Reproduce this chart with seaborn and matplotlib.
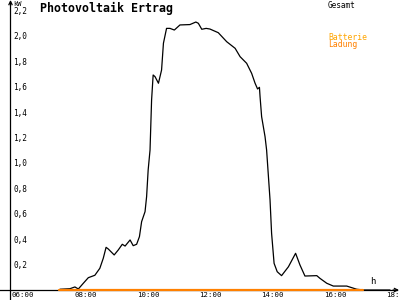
import matplotlib
matplotlib.use("Agg")
import matplotlib.pyplot as plt
import matplotlib.transforms as mtransforms
import seaborn as sns
import pandas as pd

sns.set_style("white")
plt.rcParams['font.family'] = ['DejaVu Sans Mono', 'DejaVu Sans']

# ---- data ----
gesamt_hours = [7.41, 7.73, 7.89, 8.00, 8.16, 8.32, 8.53, 8.69, 8.80, 8.89, 8.96,
                9.15, 9.28, 9.41, 9.50, 9.66, 9.76, 9.87, 9.96, 10.03, 10.14,
                10.19, 10.24, 10.30, 10.35, 10.40, 10.46, 10.57, 10.67, 10.73,
                10.83, 10.94, 11.08, 11.26, 11.58, 11.77, 11.85, 11.96, 12.10,
                12.22, 12.49, 12.76, 13.03, 13.19, 13.40, 13.56, 13.67, 13.75,
                13.81, 13.83, 13.88, 13.99, 14.04, 14.15, 14.20, 14.28, 14.38,
                14.52, 14.74, 14.97, 15.11, 15.27, 15.65, 15.75, 15.97, 16.18,
                16.61, 16.93, 17.14, 18.0]
gesamt_kw = [0.006, 0.01, 0.024, 0.008, 0.053, 0.097, 0.116, 0.171, 0.25, 0.336, 0.323,
             0.276, 0.315, 0.36, 0.346, 0.394, 0.349, 0.36, 0.42, 0.538, 0.617,
             0.735, 0.945, 1.102, 1.496, 1.693, 1.68, 1.628, 1.732, 1.943,
             2.06, 2.06, 2.047, 2.087, 2.09, 2.11, 2.10, 2.053, 2.06,
             2.055, 2.026, 1.955, 1.903, 1.837, 1.785, 1.706, 1.628, 1.583,
             1.596, 1.522, 1.365, 1.207, 1.102, 0.709, 0.446, 0.21, 0.144,
             0.113, 0.183, 0.289, 0.197, 0.11, 0.113, 0.092, 0.053, 0.031,
             0.031, 0.006, 0.0, 0.0]
batterie_hours = [7.38, 17.14]
batterie_kw = [0.0, 0.0]

x_ticks = [6, 8, 10, 12, 14, 16, 18]
x_labels = ["06:00", "08:00", "10:00", "12:00", "14:00", "16:00", "18:00"]
y_ticks = [0.2, 0.4, 0.6, 0.8, 1.0, 1.2, 1.4, 1.6, 1.8, 2.0, 2.2]
y_labels = ["0,2", "0,4", "0,6", "0,8", "1,0", "1,2", "1,4", "1,6", "1,8", "2,0", "2,2"]

title = "Photovoltaik Ertrag"
legend_labels = ["Gesamt", "Batterie", "Ladung"]

# ---- pixel mapping (400x300 figure) ----
PX_PER_H = 31.17
PX_PER_KW = 127.0
def hx(px):
    return 6 + (px - 16) / PX_PER_H
def ky(py):
    return (290 - py) / PX_PER_KW

fig = plt.figure(figsize=(4, 3), dpi=100)
fig.patch.set_facecolor("white")
ax = fig.add_axes([0, 0, 1, 1])
ax.set_facecolor("white")
ax.set_xlim(hx(0), hx(400))
ax.set_ylim(ky(300), ky(0))

df_g = pd.DataFrame({"h": gesamt_hours, "kw": gesamt_kw})
df_b = pd.DataFrame({"h": batterie_hours, "kw": batterie_kw})

for s in ["top", "right"]:
    ax.spines[s].set_visible(False)
ax.spines["left"].set_position(("data", hx(10.5)))
ax.spines["bottom"].set_position(("data", 0))
ax.spines["left"].set_bounds(ky(300), ky(3))
ax.spines["bottom"].set_bounds(hx(0), hx(397))
for s in ["left", "bottom"]:
    ax.spines[s].set_color("black")
    ax.spines[s].set_linewidth(0.9)
    ax.spines[s].set_zorder(1)

sns.lineplot(data=df_g, x="h", y="kw", ax=ax, color="black", linewidth=0.9,
             estimator=None, sort=False, zorder=3)
sns.lineplot(data=df_b, x="h", y="kw", ax=ax, color="#FF8000", linewidth=1.6,
             estimator=None, sort=False, zorder=4)

ax.set_xlabel("")
ax.set_ylabel("")

ax.set_xticks(x_ticks)
ax.set_xticklabels(x_labels)
ax.set_yticks(y_ticks)
ax.set_yticklabels(y_labels)
ax.tick_params(axis="x", direction="inout", length=6, width=0.9, pad=0,
               labelsize=5.3, colors="black")
ax.tick_params(axis="y", direction="inout", length=4, width=0.9, pad=0,
               labelsize=5.6, colors="black")

xoff = mtransforms.ScaledTranslation(-4 / 100, 2.0 / 100, fig.dpi_scale_trans)
for lab in ax.get_xticklabels():
    lab.set_ha("left")
    lab.set_transform(lab.get_transform() + xoff)
yoff = mtransforms.ScaledTranslation(5.5 / 100, 0, fig.dpi_scale_trans)
for lab in ax.get_yticklabels():
    lab.set_ha("left")
    lab.set_transform(lab.get_transform() + yoff)

ax.annotate("", xy=(hx(10.5), ky(0)), xytext=(hx(10.5), ky(6)),
            arrowprops=dict(arrowstyle="->", color="black", lw=0.9,
                            mutation_scale=6, shrinkA=0, shrinkB=0))
ax.annotate("", xy=(hx(399), 0), xytext=(hx(393), 0),
            arrowprops=dict(arrowstyle="->", color="black", lw=0.9,
                            mutation_scale=6, shrinkA=0, shrinkB=0))

ax.text(hx(13), ky(1), "kW", fontsize=5, ha="left", va="top", color="black")
ax.text(hx(370), ky(286), "h", fontsize=6.5, ha="left", va="bottom", color="black")

ax.text(hx(40), ky(2), title, fontsize=8.4, fontweight="bold",
        ha="left", va="top", color="black")

ax.text(hx(328), ky(1.5), legend_labels[0], fontsize=5.6, ha="left", va="top",
        color="black")
ax.text(hx(328), ky(32.5), legend_labels[1], fontsize=5.9, ha="left", va="top",
        color="#FFA500")
ax.text(hx(328), ky(40.5), legend_labels[2], fontsize=5.9, ha="left", va="top",
        color="#FF8000")

fig.savefig("out.png", dpi=100, facecolor="white")
